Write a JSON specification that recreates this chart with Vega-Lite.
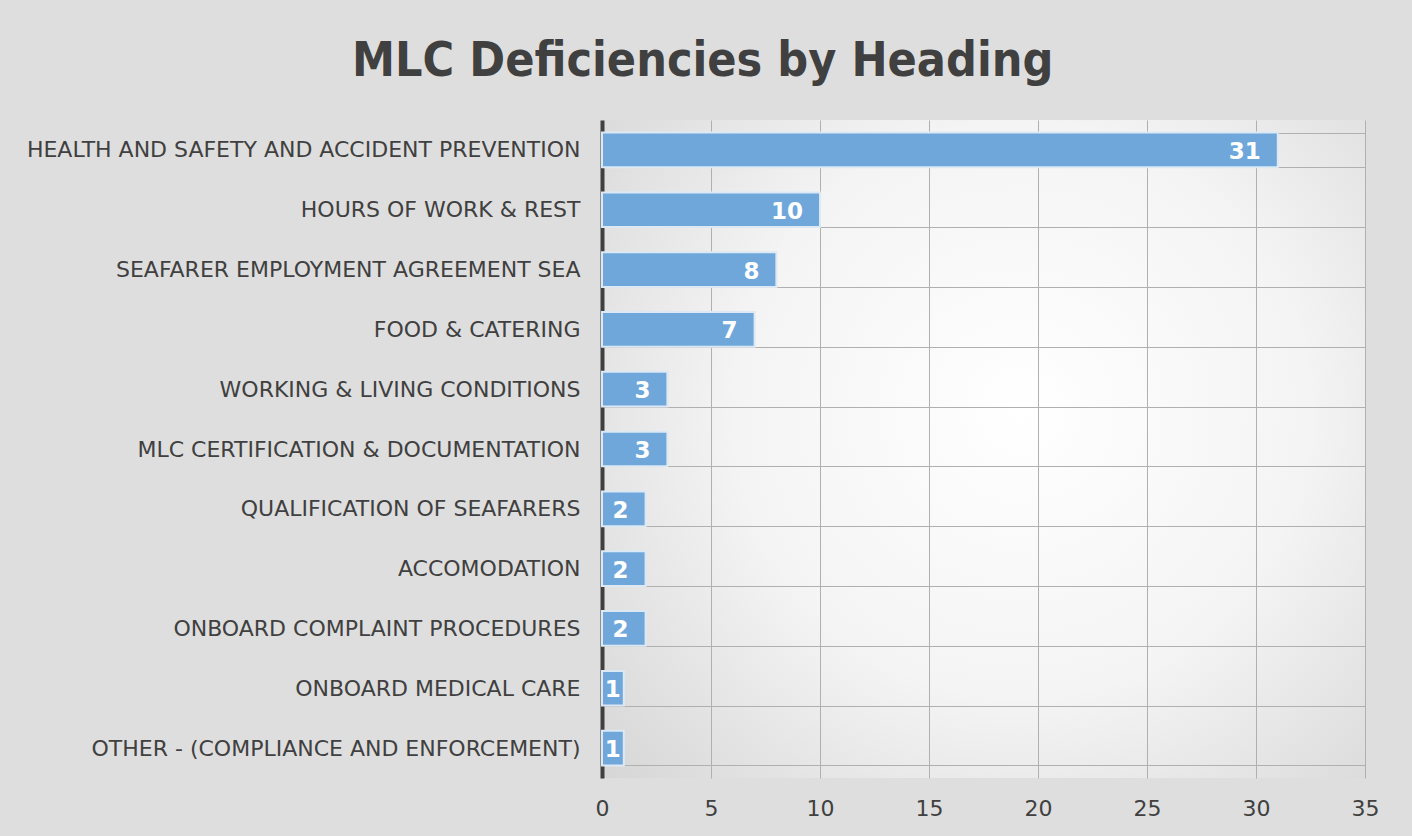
{
  "$schema": "https://vega.github.io/schema/vega-lite/v6.json",
  "width": 763,
  "height": 658,
  "padding": {"top": 38, "left": 26, "right": 48, "bottom": 20},
  "background": "#dedede",
  "title": {
    "text": "MLC Deficiencies by Heading",
    "font": "DejaVu Sans Condensed",
    "fontSize": 48,
    "fontWeight": "bold",
    "color": "#404040",
    "anchor": "middle",
    "frame": "bounds",
    "offset": 23
  },
  "data": {
    "values": [
      {"heading": "HEALTH AND SAFETY AND ACCIDENT PREVENTION", "count": 31},
      {"heading": "HOURS OF WORK & REST", "count": 10},
      {"heading": "SEAFARER EMPLOYMENT AGREEMENT SEA", "count": 8},
      {"heading": "FOOD & CATERING", "count": 7},
      {"heading": "WORKING & LIVING CONDITIONS", "count": 3},
      {"heading": "MLC CERTIFICATION & DOCUMENTATION", "count": 3},
      {"heading": "QUALIFICATION OF SEAFARERS", "count": 2},
      {"heading": "ACCOMODATION", "count": 2},
      {"heading": "ONBOARD COMPLAINT PROCEDURES", "count": 2},
      {"heading": "ONBOARD MEDICAL CARE", "count": 1},
      {"heading": "OTHER - (COMPLIANCE AND ENFORCEMENT)", "count": 1}
    ]
  },
  "encoding": {
    "y": {
      "field": "heading",
      "type": "nominal",
      "sort": null,
      "title": null,
      "scale": {"paddingInner": 0.42, "paddingOuter": 0.21},
      "axis": {
        "domain": true,
        "domainColor": "#404040",
        "domainWidth": 4,
        "ticks": false,
        "grid": true,
        "tickBand": "extent",
        "gridColor": "#b0b0b0",
        "gridWidth": 1,
        "labelFont": "DejaVu Sans",
        "labelFontSize": 22,
        "labelColor": "#404040",
        "labelPadding": 22,
        "labelLimit": 0
      }
    },
    "x": {
      "field": "count",
      "type": "quantitative",
      "title": null,
      "scale": {"domain": [0, 35], "nice": false},
      "axis": {
        "values": [0, 5, 10, 15, 20, 25, 30, 35],
        "domain": false,
        "ticks": false,
        "grid": true,
        "gridColor": "#b0b0b0",
        "gridWidth": 1,
        "labelFlush": false,
        "labelFont": "DejaVu Sans",
        "labelFontSize": 22,
        "labelColor": "#404040",
        "labelPadding": 20
      }
    }
  },
  "layer": [
    {
      "mark": {"type": "bar", "fill": "#6fa7da", "stroke": "#dce9f5", "strokeWidth": 2}
    },
    {
      "transform": [{"filter": "datum.count >= 2"}],
      "mark": {
        "type": "text",
        "align": "right",
        "baseline": "middle",
        "dx": -17,
        "dy": 2,
        "color": "white",
        "font": "DejaVu Sans",
        "fontSize": 23,
        "fontWeight": "bold"
      },
      "encoding": {"text": {"field": "count", "type": "quantitative"}}
    },
    {
      "transform": [{"filter": "datum.count < 2"}],
      "mark": {
        "type": "text",
        "align": "right",
        "baseline": "middle",
        "dx": -3,
        "dy": 2,
        "color": "white",
        "font": "DejaVu Sans",
        "fontSize": 23,
        "fontWeight": "bold"
      },
      "encoding": {"text": {"field": "count", "type": "quantitative"}}
    }
  ],
  "config": {
    "view": {
      "stroke": null,
      "fill": {
        "gradient": "radial",
        "x1": 0.55, "y1": 0.45, "r1": 0,
        "x2": 0.55, "y2": 0.45, "r2": 0.75,
        "stops": [
          {"offset": 0, "color": "#ffffff"},
          {"offset": 0.5, "color": "#f4f4f4"},
          {"offset": 1, "color": "#d4d4d4"}
        ]
      }
    }
  }
}
